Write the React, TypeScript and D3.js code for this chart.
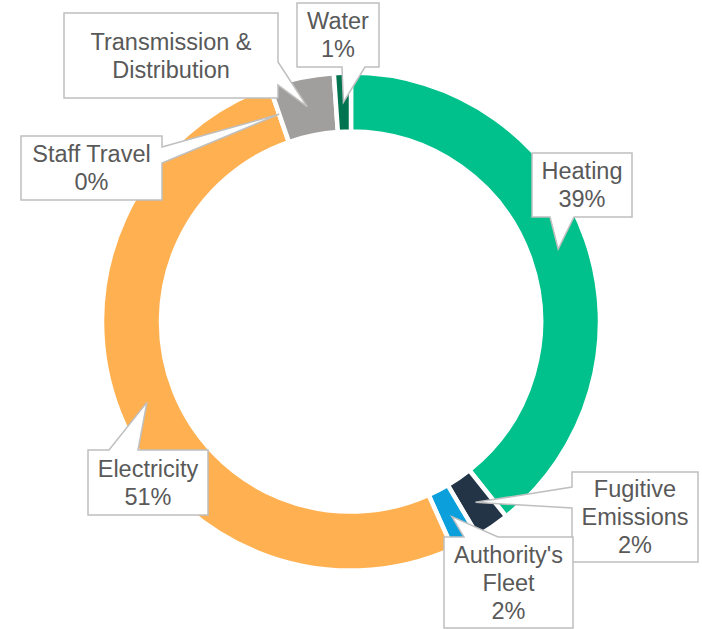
import React from "react";
import * as d3 from "d3";

const categories = ["Heating", "Fugitive Emissions", "Authority's Fleet", "Electricity", "Staff Travel", "Transmission & Distribution", "Water"];
const values = [39.3, 2.2, 1.8, 51.4, 0, 4.2, 1.1];
const colors = ["#00C08B", "#233447", "#0B9FDB", "#FFB152", "#7F7F7F", "#A09F9D", "#00744F"];
const labelLines = [["Heating"], ["Fugitive", "Emissions"], ["Authority's", "Fleet"], ["Electricity"], ["Staff Travel"], ["Transmission &", "Distribution"], ["Water"]];
const showPct = [true, true, true, true, true, false, true];

// callout layout: box [x0,y0,x1,y1], side of pointer, base positions along that side
const calloutLayout = [
  { box: [532, 153, 632, 217], side: "bottom", base: [550, 574] },
  { box: [572, 472, 698, 562], side: "left", base: [487, 508] },
  { box: [444, 537, 573, 628], side: "top", base: [464, 498] },
  { box: [88, 450, 208, 515], side: "top", base: [109, 138] },
  { box: [21, 136, 162, 200], side: "right", base: [147, 163] },
  { box: [64, 13, 278, 98], side: "right", base: [62, 85] },
  { box: [297, 3, 379, 67], side: "bottom", base: [342, 365] },
];

const W = 702, H = 629;
const cx = 351, cy = 321.6;
const outerR = 249, innerR = 190;
const fontSize = 23.5, lineH = 28;

function calloutPath(box: number[], side: string, base: number[], tip: [number, number]) {
  const [x0, y0, x1, y1] = box;
  const p = d3.path();
  p.moveTo(x0, y0);
  if (side === "top") { p.lineTo(base[0], y0); p.lineTo(tip[0], tip[1]); p.lineTo(base[1], y0); }
  p.lineTo(x1, y0);
  if (side === "right") { p.lineTo(x1, base[0]); p.lineTo(tip[0], tip[1]); p.lineTo(x1, base[1]); }
  p.lineTo(x1, y1);
  if (side === "bottom") { p.lineTo(base[1], y1); p.lineTo(tip[0], tip[1]); p.lineTo(base[0], y1); }
  p.lineTo(x0, y1);
  if (side === "left") { p.lineTo(x0, base[1]); p.lineTo(tip[0], tip[1]); p.lineTo(x0, base[0]); }
  p.closePath();
  return p.toString();
}

export default function App() {
  const total = d3.sum(values);
  const pie = d3.pie<number>().sort(null).value((d) => d)(values);
  const arc = d3.arc<d3.PieArcDatum<number>>().innerRadius(innerR).outerRadius(outerR);
  return (
    <svg width={W} height={H} style={{ position: "absolute", left: 0, top: 0 }} fontFamily="'Liberation Sans', Arial, sans-serif">
      <rect width={W} height={H} fill="#ffffff" />
      <g transform={`translate(${cx},${cy})`}>
        {pie.map((d, i) => (
          <path key={i} d={arc(d) || ""} fill={colors[i]} stroke="#ffffff" strokeWidth={4.5} strokeLinejoin="miter" />
        ))}
      </g>
      {pie.map((d, i) => {
        const c = arc.centroid(d);
        const tip: [number, number] = [c[0] + cx, c[1] + cy];
        const L = calloutLayout[i];
        const lines = [...labelLines[i]];
        if (showPct[i]) lines.push(`${Math.round((values[i] / total) * 100)}%`);
        const [x0, y0, x1, y1] = L.box;
        const mx = (x0 + x1) / 2, my = (y0 + y1) / 2;
        const n = lines.length;
        return (
          <g key={"l" + i}>
            <path d={calloutPath(L.box, L.side, L.base, tip)} fill="#ffffff" stroke="#BFBFBF" strokeWidth={1.5} strokeLinejoin="miter" />
            {lines.map((t, j) => (
              <text key={j} x={mx} y={my + (j - (n - 1) / 2) * lineH + fontSize * 0.35} textAnchor="middle" fontSize={fontSize} fill="#595959">
                {t}
              </text>
            ))}
          </g>
        );
      })}
    </svg>
  );
}
